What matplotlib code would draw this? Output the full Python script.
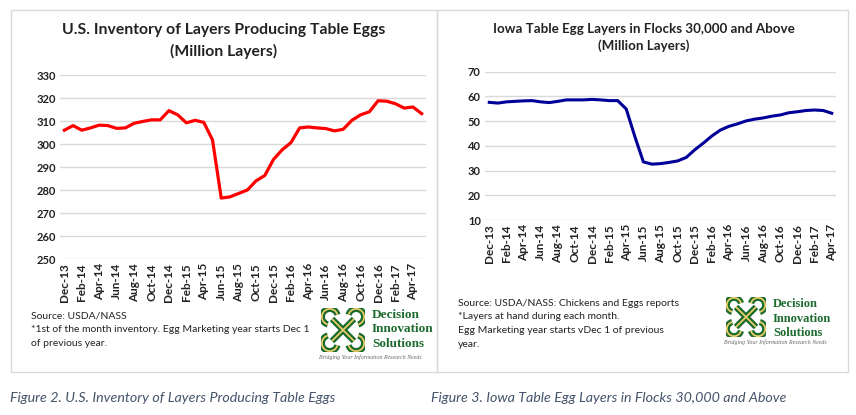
import numpy as np
import pandas as pd
import matplotlib.pyplot as plt
from matplotlib.patches import Rectangle, Arc

plt.rcParams['font.family'] = ['Lato', 'DejaVu Sans']

# monthly categories, Dec-13 onward
us_months = pd.date_range('2013-12-01', periods=42, freq='MS').strftime('%b-%y').tolist()
iowa_months = us_months[:41]

# U.S. inventory of layers producing table eggs (million)
us_layers = [306.0, 308.0, 306.0, 307.0, 308.2, 308.0, 306.8, 307.0, 309.0, 309.8,
             310.5, 310.5, 314.5, 312.7, 309.2, 310.3, 309.4, 301.8, 276.5, 277.0,
             278.5, 280.0, 284.0, 286.3, 293.3, 297.5, 300.6, 307.0, 307.4, 307.0,
             306.7, 305.7, 306.4, 310.3, 312.7, 314.0, 318.8, 318.6, 317.5, 315.6,
             316.1, 313.2]

# Iowa table egg layers in flocks 30,000+ (million)
iowa_layers = [57.6, 57.3, 57.8, 58.0, 58.2, 58.3, 57.8, 57.5, 58.0, 58.6,
               58.6, 58.6, 58.8, 58.6, 58.3, 58.3, 54.9, 43.8, 33.5, 32.6,
               32.8, 33.3, 33.9, 35.3, 38.4, 41.1, 44.0, 46.4, 47.9, 48.9,
               50.1, 50.8, 51.3, 52.0, 52.5, 53.4, 53.8, 54.3, 54.5, 54.3,
               53.2]

W, H = 856, 415
fig = plt.figure(figsize=(W / 100, H / 100), dpi=100)


def fx(x):
    return x / W


def fy(y):
    return 1 - y / H


def panel(x0, y0, x1, y1):
    fig.patches.append(Rectangle((fx(x0), fy(y1)), fx(x1 - x0), (y1 - y0) / H,
                                 transform=fig.transFigure, fill=False,
                                 edgecolor='#d9d9d9', lw=1))


def style_axis(ax, months, ylim, step):
    ax.set_xlim(-0.5, len(months) - 0.5)
    ax.set_ylim(*ylim)
    ax.set_yticks(np.arange(ylim[0], ylim[1] + 1, step))
    ticks = np.arange(0, len(months), 2)
    ax.set_xticks(ticks)
    ax.set_xticklabels([months[i] for i in ticks], rotation=90, fontsize=8.5,
                       fontweight='bold', color='#222222')
    for lab in ax.get_yticklabels():
        lab.set_fontsize(8)
        lab.set_fontweight('bold')
        lab.set_color('#222222')
    ax.tick_params(length=0, pad=3)
    ax.grid(axis='y', color='#d9d9d9', lw=1)
    ax.set_axisbelow(True)
    for s in ax.spines.values():
        s.set_visible(False)


def logo(x, y, size, text_size):
    # simplified knot emblem + company name, positioned in pixels
    ax = fig.add_axes([fx(x), fy(y + size), fx(size), size / H])
    ax.set_xlim(0, 1)
    ax.set_ylim(0, 1)
    ax.axis('off')
    for col, lw in (('#1d6b2e', 4.5), ('#f2d36b', 1.2)):
        ax.plot([0.25, 0.75], [0.25, 0.75], color=col, lw=lw, solid_capstyle='butt')
        ax.plot([0.25, 0.75], [0.75, 0.25], color=col, lw=lw, solid_capstyle='butt')
        for (px, py, a) in ((0.2, 0.2, 45), (0.8, 0.2, 135), (0.8, 0.8, 225), (0.2, 0.8, 315)):
            ax.add_patch(Arc((px, py), 0.36, 0.36, angle=a, theta1=60, theta2=300,
                             color=col, lw=lw))
    tx = x + size + 7
    for i, word in enumerate(['Decision', 'Innovation', 'Solutions']):
        fig.text(fx(tx), fy(y + 7 + i * 14.5), word, fontsize=text_size,
                 fontweight='bold', family=['Liberation Serif', 'DejaVu Serif'],
                 color='#1d6b2e', va='center')
    fig.text(fx(x - 2), fy(y + size + 5), 'Bridging Your Information Research Needs',
             fontsize=4.2, style='italic', family=['Liberation Serif', 'DejaVu Serif'],
             color='#666666', va='center')


panel(11, 10, 437, 372)
panel(437, 10, 848, 372)

# left chart
ax1 = fig.add_axes([fx(60), fy(259), fx(426 - 60), (259 - 75) / H])
ax1.plot(np.arange(len(us_layers)), us_layers, color='#ff0000', lw=2.3)
style_axis(ax1, us_months, (250, 330), 10)
fig.text(fx(224), fy(30), 'U.S. Inventory of Layers Producing Table Eggs',
         ha='center', va='center', fontsize=11.3, fontweight='bold', color='#222222')
fig.text(fx(224), fy(51), '(Million Layers)', ha='center', va='center',
         fontsize=11.3, fontweight='bold', color='#222222')
fig.text(fx(31), fy(316), 'Source: USDA/NASS', fontsize=7.5, va='center', color='#222222')
fig.text(fx(31), fy(329.5), '*1st of the month inventory. Egg Marketing year starts Dec 1',
         fontsize=7.5, va='center', color='#222222')
fig.text(fx(31), fy(343), 'of previous year.', fontsize=7.5, va='center', color='#222222')
logo(321, 308, 44, 9.5)

# right chart
ax2 = fig.add_axes([fx(485), fy(220), fx(836 - 485), (220 - 71.7) / H])
ax2.plot(np.arange(len(iowa_layers)), iowa_layers, color='#000099', lw=2.2)
style_axis(ax2, iowa_months, (10, 70), 10)
fig.text(fx(644), fy(29), 'Iowa Table Egg Layers in Flocks 30,000 and Above',
         ha='center', va='center', fontsize=9.6, fontweight='bold', color='#222222')
fig.text(fx(644), fy(46), '(Million Layers)', ha='center', va='center',
         fontsize=9.6, fontweight='bold', color='#222222')
src2 = ['Source: USDA/NASS: Chickens and Eggs reports',
        '*Layers at hand during each month.',
        'Egg Marketing year starts vDec 1 of previous',
        'year.']
for i, line in enumerate(src2):
    fig.text(fx(458), fy(303 + i * 13.7), line, fontsize=7.5, va='center', color='#222222')
logo(726, 297, 40, 9)

# figure captions
fig.text(fx(10), fy(398), 'Figure 2. U.S. Inventory of Layers Producing Table Eggs',
         fontsize=10.3, style='italic', color='#44546a', va='center')
fig.text(fx(431), fy(398), 'Figure 3. Iowa Table Egg Layers in Flocks 30,000 and Above',
         fontsize=10.3, style='italic', color='#44546a', va='center')

fig.savefig('out.png', dpi=100, facecolor='white')
